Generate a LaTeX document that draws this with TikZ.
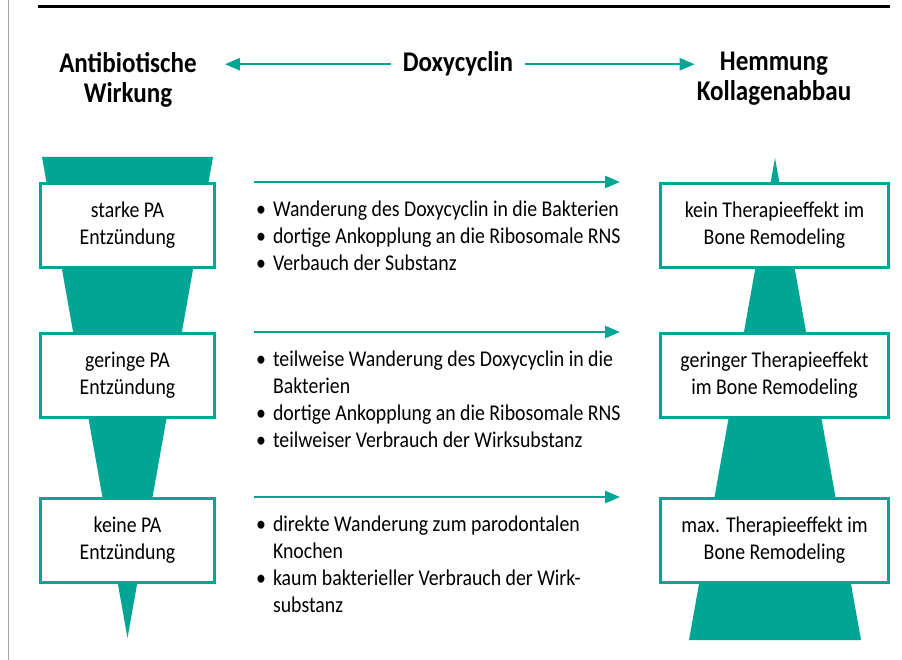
\documentclass[tikz,border=0pt]{standalone}
\usepackage{fontspec}
\setmainfont{Carlito}[FakeStretch=0.88]
\usetikzlibrary{positioning,arrows.meta}
\definecolor{pagreen}{RGB}{0,166,147}
\newcommand{\headfont}{\fontsize{28.5}{30.5}\selectfont\bfseries}
\newcommand{\bodyfont}{\fontsize{22.5}{27}\selectfont}

\begin{document}
\begin{tikzpicture}[x=1pt, y=-1pt, node distance=150pt,
    block/.style={rectangle, draw=pagreen, line width=3pt, fill=white, minimum width=174pt, minimum height=84pt, align=center, font=\bodyfont},
    effect/.style={block, minimum width=228pt},
    head/.style={anchor=north, align=center, inner sep=0pt, font=\headfont},
    list/.style={inner sep=0pt, font=\bodyfont},
    arrow/.style={draw=pagreen, line width=2.5pt, -{Triangle[length=15pt, width=12pt]}}]

    \useasboundingbox (0,0) rectangle (902,660);
    \draw [gray!70, line width=1pt] (8,0) -- (8,660);
    \draw [line width=3pt] (38,7) -- (890,7);

    % Kopfzeile
    \node [head, anchor=base] (doxy) at (458,72) {Doxycyclin};
    \node [head] (anti) at ([xshift=-330pt]doxy.north) {Antibiotische\\Wirkung};
    \node [head] (hemm) at ([xshift=316pt]doxy.north) {Hemmung\\Kollagenabbau};
    \draw [arrow, shorten <=12pt, shorten >=28pt] (doxy.west) -- (doxy.west -| anti.east);
    \draw [arrow, shorten <=12pt, shorten >=2pt] (doxy.east) -- (doxy.east -| hemm.west);

    % Trichter und Pyramide
    \fill [pagreen] (42,157) -- (213,157) -- (127.5,638) -- cycle;
    \fill [pagreen] (775,158) -- (861,640) -- (689,640) -- cycle;

    % linke Spalte
    \node [block] (strong) at (127.5,225.5) {starke PA\\Entzündung};
    \node [block, below of=strong] (low) {geringe PA\\Entzündung};
    \node [block, below of=low, node distance=165pt] (none) {keine PA\\Entzündung};

    % rechte Spalte
    \node [effect] (noeff) at (774.5,225.5) {kein Therapieeffekt im\\Bone Remodeling};
    \node [effect, below of=noeff] (loweff) {geringer Therapieeffekt\\im Bone Remodeling};
    \node [effect, below of=loweff, node distance=165pt] (maxeff) {max. Therapieeffekt im\\Bone Remodeling};

    % Pfeile in der Mitte
    \coordinate (a1) at ([xshift=38pt]strong.north east);
    \coordinate (a2) at ([xshift=38pt]low.north east);
    \coordinate (a3) at ([xshift=38pt]none.north east);
    \draw [arrow] (a1) -- ([xshift=-39pt]noeff.north west);
    \draw [arrow] (a2) -- ([xshift=-39pt]loweff.north west);
    \draw [arrow] (a3) -- ([xshift=-39pt]maxeff.north west);

    \node [list, below right=15pt and 2pt of a1] (steps1) {\begin{tabular}{@{}l@{\hspace{7pt}}l@{}}
        \textbullet & Wanderung des Doxycyclin in die Bakterien\\
        \textbullet & dortige Ankopplung an die Ribosomale RNS\\
        \textbullet & Verbauch der Substanz
    \end{tabular}};
    \node [list, below right=15pt and 2pt of a2] (steps2) {\begin{tabular}{@{}l@{\hspace{7pt}}l@{}}
        \textbullet & teilweise Wanderung des Doxycyclin in die\\
                    & Bakterien\\
        \textbullet & dortige Ankopplung an die Ribosomale RNS\\
        \textbullet & teilweiser Verbrauch der Wirksubstanz
    \end{tabular}};
    \node [list, below right=15pt and 2pt of a3] (steps3) {\begin{tabular}{@{}l@{\hspace{7pt}}l@{}}
        \textbullet & direkte Wanderung zum parodontalen\\
                    & Knochen\\
        \textbullet & kaum bakterieller Verbrauch der Wirk-\\
                    & substanz
    \end{tabular}};
\end{tikzpicture}
\end{document}
